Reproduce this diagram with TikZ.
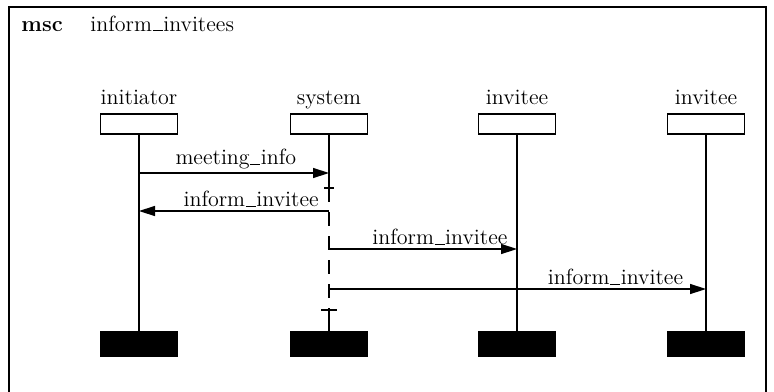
\documentclass[tikz,border=0pt]{standalone}
\usepackage{tikz}
\usetikzlibrary{arrows.meta,positioning}
\newcommand{\usc}{\kern0.03em\rule[-0.05ex]{0.45em}{0.5pt}\kern0.03em}
\tikzset{inst head/.style={rectangle,draw,line width=0.8pt,minimum width=38.5pt,minimum height=10pt,inner sep=0pt},
         inst end/.style={rectangle,fill=black,draw,minimum width=38.5pt,minimum height=12.5pt,inner sep=0pt},
         inst name/.style={rectangle,draw=none,fill=none,inner sep=0pt,anchor=base},
         msg/.style={-{Triangle[length=8pt,width=5pt]},line width=0.7pt},
         msg label/.style={rectangle,draw=none,fill=none,above,inner sep=1.5pt},
         lifeline/.style={line width=0.7pt}
}

\begin{document}
\begin{tikzpicture}[x=0.5pt,y=-0.5pt,font=\fontsize{11}{13}\selectfont]
\useasboundingbox (0,0) rectangle (774,391);

% frame
\draw[line width=0.8pt] (9,395) -- (9,7) -- (766,7) -- (766,395);
\node[inst name,anchor=base west] (msc) at (21,31) {\textbf{msc}};
\node[inst name,anchor=base west] (title) at (90,31) {inform\usc invitees};

% instance heads
\node [inst head] (initiator) at (139,124) {};
\node [inst head] (system) at (329,124) {};
\node [inst head] (inviteeA) at (517,124) {};
\node [inst head] (inviteeB) at (706,124) {};

\node [inst name] at (139,104) {initiator};
\node [inst name] at (329,104) {system};
\node [inst name] at (517,104) {invitee};
\node [inst name] at (706,104) {invitee};

% instance ends
\node [inst end] (initiatorEnd) at (139,344) {};
\node [inst end] (systemEnd) at (329,344) {};
\node [inst end] (inviteeAEnd) at (517,344) {};
\node [inst end] (inviteeBEnd) at (706,344) {};

% lifelines
\draw[lifeline] (initiator) -- (initiatorEnd);
\draw[lifeline] (inviteeA) -- (inviteeAEnd);
\draw[lifeline] (inviteeB) -- (inviteeBEnd);

% system with coregion
\coordinate (coStart) at (329,188);
\coordinate (coEnd) at (329,310);
\draw[lifeline] (system) -- (coStart);
\draw[lifeline] ([xshift=-2.5pt]coStart) -- ([xshift=2.5pt]coStart);
\draw[lifeline,dash pattern=on 7pt off 5pt] (coStart) -- (coEnd);
\draw[lifeline] ([xshift=-4pt]coEnd) -- ([xshift=4pt]coEnd);
\draw[lifeline] (coEnd) -- (systemEnd);

% messages
\draw[msg] (initiator.south |- 0,173) -- node[msg label,pos=0.51] {meeting\usc info} (system.south |- 0,173);
\draw[msg] (system.south |- 0,211) -- node[msg label,pos=0.41] {inform\usc invitee} (initiator.south |- 0,211);
\draw[msg] (system.south |- 0,249) -- node[msg label,pos=0.59] {inform\usc invitee} (inviteeA.south |- 0,249);
\draw[msg] (system.south |- 0,289) -- node[msg label,pos=0.76] {inform\usc invitee} (inviteeB.south |- 0,289);
\end{tikzpicture}
\end{document}
